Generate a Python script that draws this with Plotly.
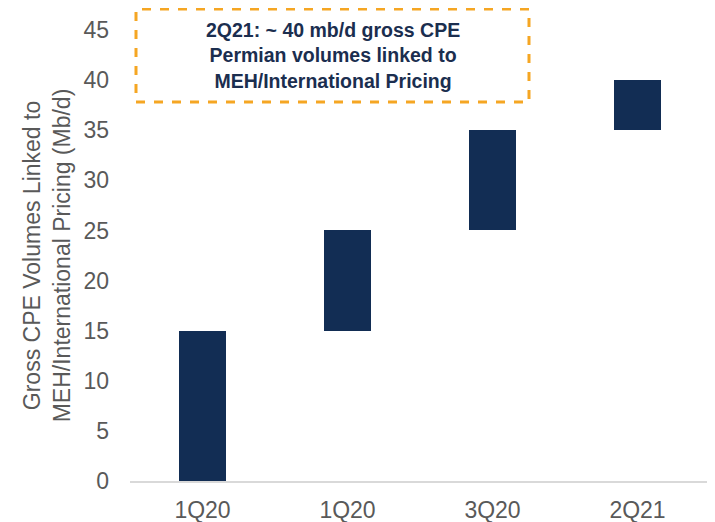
import plotly.graph_objects as go

categories = ["1Q20", "1Q20", "3Q20", "2Q21"]
bar_base = [0, 15, 25, 35]
bar_top = [15, 25, 35, 40]
y_ticks = [0, 5, 10, 15, 20, 25, 30, 35, 40, 45]

x_pos = list(range(len(categories)))
heights = [t - b for t, b in zip(bar_top, bar_base)]

fig = go.Figure()
fig.add_trace(go.Bar(
    x=x_pos, y=heights, base=bar_base,
    marker=dict(color="#122D54", line=dict(width=0)),
    width=0.33, showlegend=False,
))

# page offset of 8px (body margin)
OFF = 8
L, R, T, B = 130 - OFF, 5, 30 - OFF, 41
W, H = 715 - OFF, 522 - OFF
pw, ph = W - L - R, H - T - B

def px(x):
    return (x - 130) / pw

def py(y):
    return (481 - y) / ph

fig.add_shape(type="rect", xref="paper", yref="paper",
              x0=px(136), x1=px(529), y0=py(102), y1=py(9),
              line=dict(color="#F5A623", width=3, dash="dash"),
              fillcolor="rgba(0,0,0,0)")
fig.add_annotation(xref="paper", yref="paper", x=px(333), y=py(56),
                   text="<b>2Q21: ~ 40 mb/d gross CPE<br>Permian volumes linked to<br>MEH/International Pricing</b>",
                   showarrow=False, align="center",
                   font=dict(family="Liberation Sans, Arial", size=19.5, color="#1B2E4F"),
                   xanchor="center", yanchor="middle")

fig.update_layout(
    width=W, height=H,
    margin=dict(l=L, r=R, t=T, b=B, autoexpand=False),
    plot_bgcolor="white", paper_bgcolor="white",
    font=dict(family="Liberation Sans, Arial", size=23, color="#595959"),
    xaxis=dict(tickmode="array", tickvals=x_pos, ticktext=categories,
               range=[-0.5, 3.5], showgrid=False, showline=True,
               linecolor="#D9D9D9", linewidth=1.5, ticks="", zeroline=False,
               ticklabelstandoff=8, automargin=False,
               tickfont=dict(size=23, color="#595959")),
    yaxis=dict(range=[0, 45], tickvals=y_ticks, showgrid=False,
               zeroline=False, showline=False, ticks="",
               ticklabelstandoff=20, automargin=False,
               tickfont=dict(size=23, color="#595959"),
               title=dict(text="Gross CPE Volumes Linked to<br>MEH/International Pricing (Mb/d)",
                          font=dict(size=23, color="#595959"), standoff=6)),
    bargap=0,
)

fig.write_html("out.html")
